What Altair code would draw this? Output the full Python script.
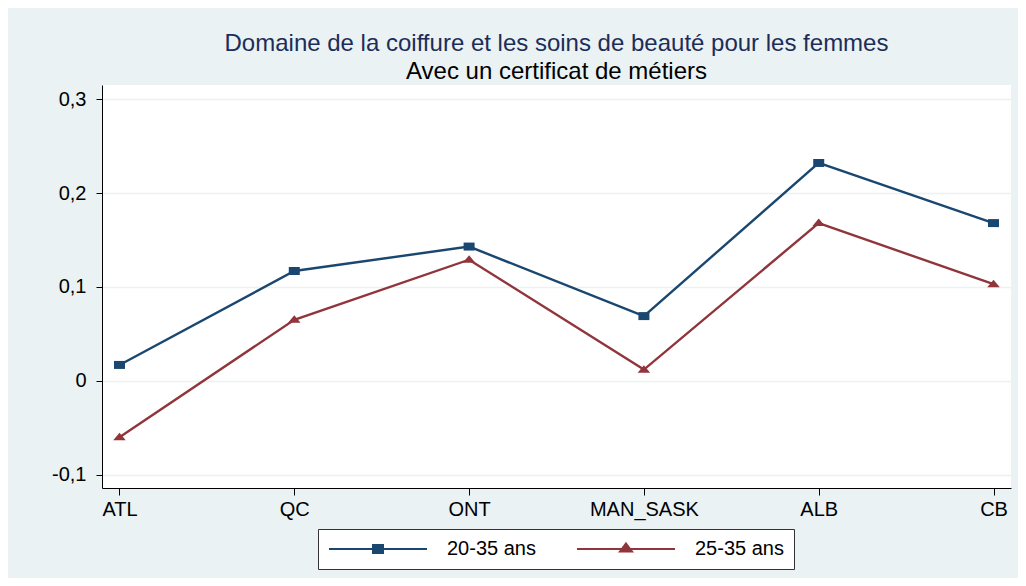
import altair as alt
import pandas as pd

regions = ["ATL", "QC", "ONT", "MAN_SASK", "ALB", "CB"]
serie_a = "20-35 ans"
serie_b = "25-35 ans"
values_a = [0.017, 0.117, 0.143, 0.069, 0.232, 0.168]
values_b = [-0.060, 0.065, 0.129, 0.012, 0.168, 0.103]
y_ticks = [-0.1, 0, 0.1, 0.2, 0.3]

series = [serie_a, serie_b]
colors = ["#1a476f", "#90353b"]

rows = []
for r, va, vb in zip(regions, values_a, values_b):
    rows.append({"region": r, "serie": serie_a, "valeur": va})
    rows.append({"region": r, "serie": serie_b, "valeur": vb})
df = pd.DataFrame(rows)

FONT = "Liberation Sans"
SQUARE = "M-1.1,-0.8H1.1V0.8H-1.1Z"
TRIANGLE = "M0,-0.9L1.25,0.6H-1.25Z"
markers = [SQUARE, TRIANGLE]

x_enc = alt.X("region:N", sort=regions, scale=alt.Scale(type="point", padding=0.1),
              axis=alt.Axis(title=None, labelAngle=0, grid=False, domainColor="black",
                            tickColor="black", tickSize=7, labelPadding=4, labelFontSize=20,
                            labelFont=FONT, labelColor="black"))
y_enc = alt.Y("valeur:Q", scale=alt.Scale(domain=[-0.114, 0.315], nice=False, zero=False),
              axis=alt.Axis(title=None, values=y_ticks, grid=True, gridColor="#eaf2f3",
                            gridWidth=1.5, domainColor="black", tickColor="black", tickSize=6,
                            labelPadding=10, labelFontSize=20, labelFont=FONT, labelColor="black",
                            labelExpr="datum.value == 0 ? '0' : replace(replace(format(datum.value, '.1f'), '.', ','), '\u2212', '-')"))

base = alt.Chart(df)

layers = []
for s, c, m in zip(series, colors, markers):
    sub = base.transform_filter(alt.datum.serie == s)
    layers.append(sub.mark_line(strokeWidth=2.4, opacity=1, color=c).encode(x=x_enc, y=y_enc))
    layers.append(sub.mark_point(filled=True, opacity=1, size=100, shape=m, color=c).encode(x=x_enc, y=y_enc))

legend_shapes = [
    "M-1.8,0H17.8M7,-0.8H9V0.8H7Z",
    "M-1.8,0H17.8M8,-1.1L9.2,0.5H6.8Z",
]
leg = alt.Legend(title=None, orient="none", legendX=216, legendY=444, direction="horizontal",
                 columns=2, columnPadding=37, padding=10, strokeColor="#333333",
                 fillColor="white", symbolSize=100, symbolStrokeWidth=2, labelOffset=99,
                 labelFontSize=20, labelFont=FONT, labelColor="black", symbolOpacity=1)
legend_layer = base.transform_filter("false").mark_point(filled=True, opacity=1, strokeWidth=2).encode(
    x=x_enc, y=y_enc,
    fill=alt.Fill("serie:N", scale=alt.Scale(domain=series, range=colors), legend=leg),
    stroke=alt.Stroke("serie:N", scale=alt.Scale(domain=series, range=colors), legend=leg),
    shape=alt.Shape("serie:N", scale=alt.Scale(domain=series, range=legend_shapes), legend=leg),
)
layers.append(legend_layer)

chart = alt.layer(*layers).properties(
    width=909, height=403,
    padding={"left": 94, "top": 77, "right": 7, "bottom": 90},
    autosize=alt.AutoSizeParams(type="none"),
    title=alt.Title("Domaine de la coiffure et les soins de beauté pour les femmes",
                    subtitle="Avec un certificat de métiers", anchor="middle",
                    font=FONT, fontSize=24, fontWeight="normal", color="#1c2d5a",
                    subtitleFont=FONT, subtitleFontSize=24, subtitleColor="black",
                    subtitlePadding=4, offset=1),
).configure(background="#eaf2f3").configure_view(stroke=None, fill="white")

chart.save("out.html", embed_options={"renderer": "svg", "actions": False})
